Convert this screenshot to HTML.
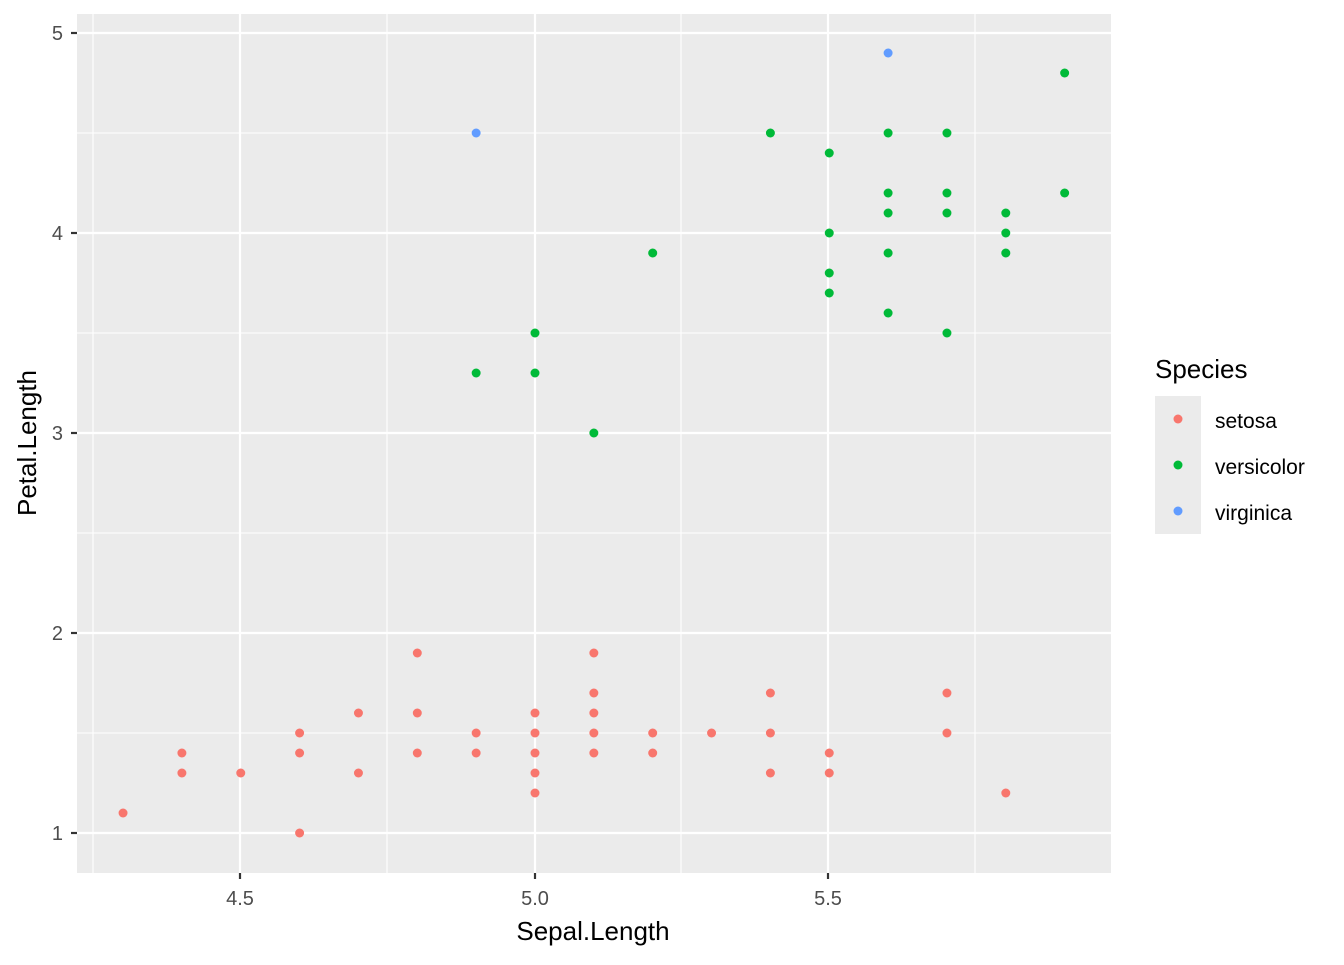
<!DOCTYPE html>
<html><head><meta charset="utf-8"><style>body{margin:0;background:#fff}</style></head><body>
<svg width="1344" height="960" xmlns="http://www.w3.org/2000/svg" font-family="Liberation Sans, Arial, sans-serif">
<rect width="1344" height="960" fill="#fff"/>
<rect x="77" y="14" width="1034" height="859" fill="#ebebeb"/>
<g stroke="#fff" stroke-width="1.1">
<line x1="93" x2="93" y1="14" y2="873"/><line x1="387" x2="387" y1="14" y2="873"/><line x1="681" x2="681" y1="14" y2="873"/><line x1="975" x2="975" y1="14" y2="873"/>
<line x1="77" x2="1111" y1="733" y2="733"/><line x1="77" x2="1111" y1="533" y2="533"/><line x1="77" x2="1111" y1="333" y2="333"/><line x1="77" x2="1111" y1="133" y2="133"/>
</g>
<g stroke="#fff" stroke-width="2.2">
<line x1="240" x2="240" y1="14" y2="873"/><line x1="535" x2="535" y1="14" y2="873"/><line x1="828" x2="828" y1="14" y2="873"/>
<line x1="77" x2="1111" y1="833" y2="833"/><line x1="77" x2="1111" y1="633" y2="633"/><line x1="77" x2="1111" y1="433" y2="433"/><line x1="77" x2="1111" y1="233" y2="233"/><line x1="77" x2="1111" y1="33" y2="33"/>
</g>
<g stroke="#333" stroke-width="2.2">
<line x1="240" x2="240" y1="873" y2="879"/><line x1="535" x2="535" y1="873" y2="879"/><line x1="828" x2="828" y1="873" y2="879"/>
<line x1="71" x2="77" y1="833" y2="833"/><line x1="71" x2="77" y1="633" y2="633"/><line x1="71" x2="77" y1="433" y2="433"/><line x1="71" x2="77" y1="233" y2="233"/><line x1="71" x2="77" y1="33" y2="33"/>
</g>
<g font-size="20" fill="#4d4d4d" text-anchor="middle">
<text x="240" y="905">4.5</text><text x="535" y="905">5.0</text><text x="828" y="905">5.5</text>
</g>
<g font-size="20" fill="#4d4d4d" text-anchor="end">
<text x="63" y="840">1</text><text x="63" y="640">2</text><text x="63" y="440">3</text><text x="63" y="240">4</text><text x="63" y="40">5</text>
</g>
<text x="593" y="940" font-size="26" text-anchor="middle" fill="#000">Sepal.Length</text>
<text transform="translate(36,443) rotate(-90)" font-size="26" text-anchor="middle" fill="#000">Petal.Length</text>
<g id="pts"></g>
<text x="1155" y="378" font-size="26" fill="#000">Species</text>
<rect x="1155" y="396" width="46" height="138" fill="#ebebeb"/>
<circle cx="1178" cy="419" r="4.5" fill="#F8766D"/>
<circle cx="1178" cy="465" r="4.5" fill="#00BA38"/>
<circle cx="1178" cy="511" r="4.5" fill="#619CFF"/>
<g font-size="21" fill="#000"><text x="1215" y="428">setosa</text><text x="1215" y="474">versicolor</text><text x="1215" y="520">virginica</text></g>
</svg>
<script>
var s=[[4.3,1.1],[4.4,1.4],[4.4,1.3],[4.5,1.3],[4.6,1.5],[4.6,1.4],[4.6,1.0],[4.7,1.6],[4.7,1.3],[4.8,1.9],[4.8,1.6],[4.8,1.4],[4.9,1.5],[4.9,1.4],[5.0,1.6],[5.0,1.5],[5.0,1.4],[5.0,1.3],[5.0,1.2],[5.1,1.9],[5.1,1.7],[5.1,1.6],[5.1,1.5],[5.1,1.4],[5.2,1.5],[5.2,1.4],[5.3,1.5],[5.4,1.7],[5.4,1.5],[5.4,1.3],[5.5,1.4],[5.5,1.3],[5.7,1.7],[5.7,1.5],[5.8,1.2]];
var v=[[4.9,3.3],[5.0,3.5],[5.0,3.3],[5.1,3.0],[5.2,3.9],[5.4,4.5],[5.5,4.4],[5.5,4.0],[5.5,3.8],[5.5,3.7],[5.6,4.5],[5.6,4.2],[5.6,4.1],[5.6,3.9],[5.6,3.6],[5.7,4.5],[5.7,4.2],[5.7,4.1],[5.7,3.5],[5.8,4.1],[5.8,4.0],[5.8,3.9],[5.9,4.8],[5.9,4.2]];
var g=[[4.9,4.5],[5.6,4.9]];
var h='';
function add(a,c){a.forEach(function(p){h+='<circle cx="'+(535+(p[0]-5)*588.5)+'" cy="'+(833-(p[1]-1)*200)+'" r="4.5" fill="'+c+'"/>';});}
add(s,'#F8766D');add(v,'#00BA38');add(g,'#619CFF');
document.getElementById('pts').innerHTML=h;
</script>
</body></html>
